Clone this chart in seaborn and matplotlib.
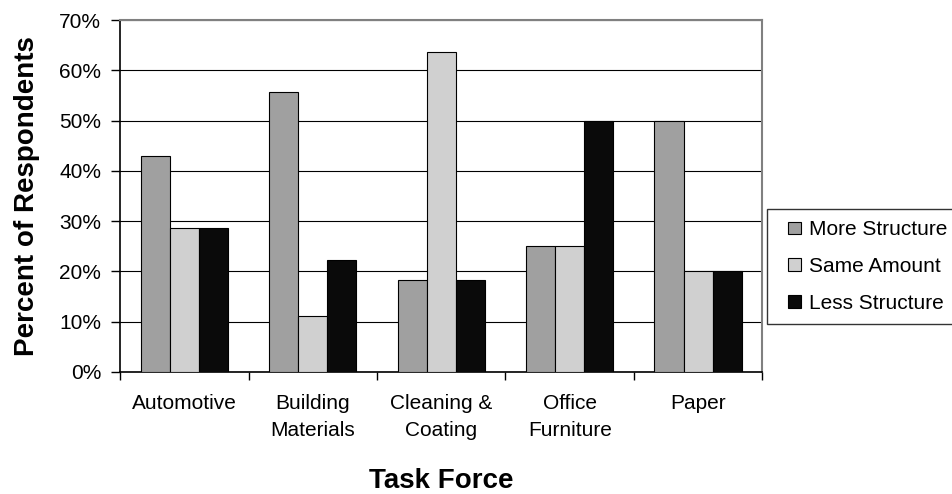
import seaborn as sns
import matplotlib.pyplot as plt
import pandas as pd
from matplotlib.patches import Rectangle
from matplotlib.legend_handler import HandlerPatch
from matplotlib.ticker import PercentFormatter

# data
task_forces = ["Automotive", "Building\nMaterials", "Cleaning &\nCoating", "Office\nFurniture", "Paper"]
more_structure = [42.9, 55.6, 18.2, 25.0, 50.0]
same_amount = [28.6, 11.1, 63.6, 25.0, 20.0]
less_structure = [28.6, 22.2, 18.2, 50.0, 20.0]
series = ["More Structure", "Same Amount", "Less Structure"]

df = pd.DataFrame({
    "task": task_forces * 3,
    "pct": more_structure + same_amount + less_structure,
    "series": [s for s in series for _ in task_forces],
})

sns.set_style("white")
plt.rcParams["font.family"] = ["Liberation Sans", "DejaVu Sans"]
plt.rcParams["text.color"] = "black"
plt.rcParams["axes.labelcolor"] = "black"
plt.rcParams["xtick.color"] = "black"
plt.rcParams["ytick.color"] = "black"

fig = plt.figure(figsize=(9.53, 4.94), dpi=100)
ax = fig.add_axes([0.126, 0.247, 0.674, 0.7125])

palette = {"More Structure": "#a0a0a0", "Same Amount": "#d0d0d0", "Less Structure": "#0a0a0a"}
sns.barplot(data=df, x="task", y="pct", hue="series", palette=palette,
            width=0.68, edgecolor="black", linewidth=0.8, saturation=1,
            ax=ax, zorder=3)

ax.set_ylim(0, 70)
ax.set_yticks(range(0, 71, 10))
ax.yaxis.set_major_formatter(PercentFormatter(decimals=0))
ax.grid(axis="y", color="black", linewidth=0.8, zorder=0)
ax.set_xlim(-0.5, 4.5)

# category ticks sit between groups
ax.set_xticks([i + 0.5 for i in range(-1, 5)], minor=False, labels=[""] * 6)
ax.set_xticks(range(5), minor=True, labels=task_forces)
ax.tick_params(axis="x", which="minor", bottom=False, length=0, labelsize=15, pad=16)
ax.tick_params(axis="x", which="major", bottom=True, direction="out", length=6, width=1, color="black")
ax.tick_params(axis="y", left=True, direction="out", length=6.5, width=1, color="black",
               labelsize=15, pad=7)
for lbl in ax.get_xticklabels(minor=True):
    lbl.set_linespacing(1.55)

for side in ["left", "bottom"]:
    ax.spines[side].set_color("black")
    ax.spines[side].set_linewidth(1.2)
for side in ["top", "right"]:
    ax.spines[side].set_visible(True)
    ax.spines[side].set_color("#808080")
    ax.spines[side].set_linewidth(1.5)

ax.set_xlabel("Task Force", fontsize=20, fontweight="bold", labelpad=20)
ax.set_ylabel("Percent of Respondents", fontsize=20, fontweight="bold", labelpad=14)


def small_square(legend, orig_handle, xdescent, ydescent, width, height, fontsize):
    s = 0.6 * fontsize
    return Rectangle((-xdescent + width - s, -ydescent + (height - s) / 2), s, s)


handles, labels = ax.get_legend_handles_labels()
leg = ax.legend(handles, labels, loc="center left", bbox_to_anchor=(0.805, 0.4605),
                bbox_transform=fig.transFigure, frameon=True,
                fontsize=15, handlelength=1.06, handleheight=0.6, handletextpad=0.38,
                labelspacing=0.85, borderpad=0.55, borderaxespad=0,
                fancybox=False, edgecolor="black",
                handler_map={h: HandlerPatch(patch_func=small_square) for h in handles})
leg.get_frame().set_linewidth(1.0)

fig.savefig("out.png", dpi=100)
